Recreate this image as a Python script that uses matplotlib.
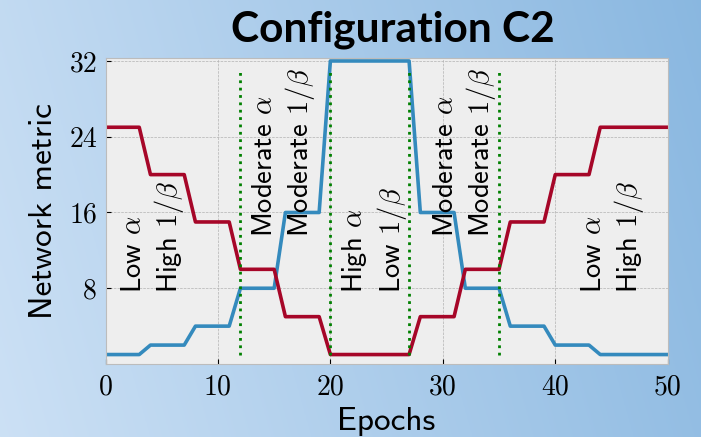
import numpy as np
import matplotlib
matplotlib.use("Agg")
import matplotlib.pyplot as plt

plt.style.use("bmh")
plt.rcParams["mathtext.fontset"] = "cm"

# per-epoch network metrics for the two schedules
epochs = np.arange(0, 51)
metric_blue = [1, 1, 1, 1, 2, 2, 2, 2, 4, 4, 4, 4, 8, 8, 8, 8, 16, 16, 16, 16,
               32, 32, 32, 32, 32, 32, 32, 32, 16, 16, 16, 16, 8, 8, 8, 8,
               4, 4, 4, 4, 2, 2, 2, 2, 1, 1, 1, 1, 1, 1, 1]
metric_red = [25, 25, 25, 25, 20, 20, 20, 20, 15, 15, 15, 15, 10, 10, 10, 10,
              5, 5, 5, 5, 1, 1, 1, 1, 1, 1, 1, 1, 5, 5, 5, 5, 10, 10, 10, 10,
              15, 15, 15, 15, 20, 20, 20, 20, 25, 25, 25, 25, 25, 25, 25]

phase_edges = [12, 20, 27, 35]
phase_x = [4.3, 15.95, 23.9, 32.0, 45.15]
phase_y = [7.5, 13.45, 7.5, 13.45, 7.5]
phase_text = [r"Low $\alpha$" + "\n" + r"High $1/\beta$",
              r"Moderate $\alpha$" + "\n" + r"Moderate $1/\beta$",
              r"High $\alpha$" + "\n" + r"Low $1/\beta$",
              r"Moderate $\alpha$" + "\n" + r"Moderate $1/\beta$",
              r"Low $\alpha$" + "\n" + r"High $1/\beta$"]

xticks = [0, 10, 20, 30, 40, 50]
yticks = [8, 16, 24, 32]

fig = plt.figure(figsize=(7.01, 4.37), dpi=100)

# slide-style blue gradient behind everything
bg = fig.add_axes([0, 0, 1, 1], zorder=-10)
bg.axis("off")
gx, gy = np.meshgrid(np.linspace(0, 1, 300), np.linspace(0, 1, 300))
t = 0.85 * gx + 0.15 * gy
c0 = np.array([0.80, 0.88, 0.96])
c1 = np.array([0.54, 0.72, 0.88])
bg.imshow(c0 + t[..., None] * (c1 - c0), extent=[0, 1, 0, 1],
          origin="lower", aspect="auto")

ax = fig.add_axes([0.1505, 0.167, 0.802, 0.700])
ax.plot(epochs, metric_blue, color="#348ABD", lw=2.6)
ax.plot(epochs, metric_red, color="#A60628", lw=2.6)
ax.vlines(phase_edges, 1, 31, colors="green", linestyles=":", lw=2)

for x, y, s in zip(phase_x, phase_y, phase_text):
    ax.text(x, y, s, rotation=90, ha="center", va="bottom",
            multialignment="left", linespacing=1.25,
            fontsize=20.5, family="cmss10")

ax.set_xlim(0, 50)
ax.set_ylim(0, 32.3)
ax.set_xticks(xticks)
ax.set_yticks(yticks)
ax.tick_params(labelsize=20, labelfontfamily="cmr10", pad=6)
ax.tick_params(axis="x", pad=7.3)

ax.set_xlabel("Epochs", fontsize=24, family="cmss10")
ax.set_ylabel("Network metric", fontsize=24, family="cmss10")
ax.yaxis.set_label_coords(-0.085, 0.5)
ax.xaxis.set_label_coords(0.5, -0.14)

fig.text(0.561, 0.904, "Configuration C2", ha="center", va="baseline",
         fontsize=30.5, fontweight="bold", family="Lato")

fig.savefig("out.png", dpi=100)
